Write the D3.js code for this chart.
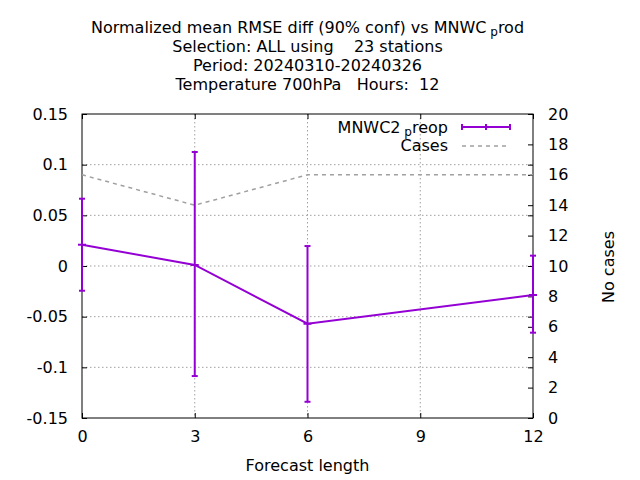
<!DOCTYPE html>
<html><head><meta charset="utf-8">
<script src="https://cdn.jsdelivr.net/npm/d3@7"></script>
<style>body{margin:0;background:#fff}text{font-family:"DejaVu Sans",sans-serif}</style>
</head><body><svg id="c" width="640" height="480"></svg>
<script>
const leadTimes = [0, 3, 6, 12];
const rmseDiff = [0.021, 0.001, -0.057, -0.0286];
const errLow = [-0.0244, -0.1086, -0.134, -0.0658];
const errHigh = [0.0664, 0.1125, 0.0197, 0.0102];
const cases = [16, 14, 16, 16];
const xTicks = [0, 3, 6, 9, 12];
const yTicks = [-0.15, -0.1, -0.05, 0, 0.05, 0.1, 0.15];
const y2Ticks = [0, 2, 4, 6, 8, 10, 12, 14, 16, 18, 20];

const svg = d3.select("#c");
const L = 82, R = 533, T = 114, B = 418;
const x = d3.scaleLinear().domain([0, 12]).range([L, R]);
const y = d3.scaleLinear().domain([-0.15, 0.15]).range([B, T]);
const y2 = d3.scaleLinear().domain([0, 20]).range([B, T]);
const purple = "#9400d3", gray = "#a0a0a0";
const fmt = d => String(+d.toFixed(2));

// grid
const g = svg.append("g");
g.selectAll("line.gx").data(xTicks.filter(d => d > 0 && d < 12)).join("line")
  .attr("x1", d => x(d)).attr("x2", d => x(d)).attr("y1", T).attr("y2", B)
  .attr("stroke", gray).attr("stroke-width", 1).attr("stroke-dasharray", "1.5,2.5");
g.selectAll("line.gy").data(yTicks.filter(d => d > -0.15 && d < 0.15)).join("line")
  .attr("x1", L).attr("x2", R).attr("y1", d => y(d)).attr("y2", d => y(d))
  .attr("stroke", gray).attr("stroke-width", 1).attr("stroke-dasharray", "1.5,2.5");

// axes
function styleAxis(sel) {
  sel.select(".domain").remove();
  sel.selectAll("line").attr("stroke", "#000");
  sel.selectAll("text").attr("font-size", 16).attr("fill", "#000")
    .attr("font-family", "DejaVu Sans, sans-serif");
}
svg.append("g").attr("transform", `translate(${L},0)`)
  .call(d3.axisLeft(y).tickValues(yTicks).tickSize(-5).tickPadding(14).tickFormat(fmt)).call(styleAxis);
svg.append("g").attr("transform", `translate(${R},0)`)
  .call(d3.axisLeft(y).tickValues(yTicks).tickSize(5).tickFormat(() => "")).call(styleAxis);
svg.append("g").attr("transform", `translate(${R},0)`)
  .call(d3.axisRight(y2).tickValues(y2Ticks).tickSize(-5).tickPadding(15).tickFormat(d3.format("d"))).call(styleAxis);
svg.append("g").attr("transform", `translate(0,${B})`)
  .call(d3.axisBottom(x).tickValues(xTicks).tickSize(-5).tickPadding(13).tickFormat(d3.format("d"))).call(styleAxis);
svg.append("g").attr("transform", `translate(0,${T})`)
  .call(d3.axisTop(x).tickValues(xTicks).tickSize(-5).tickFormat(() => "")).call(styleAxis);

// border
svg.append("rect").attr("x", L).attr("y", T).attr("width", R - L).attr("height", B - T)
  .attr("fill", "none").attr("stroke", "#000").attr("stroke-width", 1);

// cases line
svg.append("path").datum(leadTimes.map((t, i) => [t, cases[i]]))
  .attr("d", d3.line().x(d => x(d[0])).y(d => y2(d[1])))
  .attr("fill", "none").attr("stroke", gray).attr("stroke-width", 1.5).attr("stroke-dasharray", "4,4");

// main series
const pts = leadTimes.map((t, i) => ({ t, v: rmseDiff[i], lo: errLow[i], hi: errHigh[i] }));
svg.append("path").datum(pts)
  .attr("d", d3.line().x(d => x(d.t)).y(d => y(d.v)))
  .attr("fill", "none").attr("stroke", purple).attr("stroke-width", 2);
const eb = svg.append("g").attr("stroke", purple).attr("stroke-width", 2).attr("fill", "none");
pts.forEach(d => {
  const cx = x(d.t);
  eb.append("line").attr("x1", cx).attr("x2", cx).attr("y1", y(d.lo)).attr("y2", y(d.hi));
  eb.append("line").attr("x1", cx - 3).attr("x2", cx + 3).attr("y1", y(d.lo)).attr("y2", y(d.lo));
  eb.append("line").attr("x1", cx - 3).attr("x2", cx + 3).attr("y1", y(d.hi)).attr("y2", y(d.hi));
  eb.append("line").attr("x1", cx - 4).attr("x2", cx + 4).attr("y1", y(d.v)).attr("y2", y(d.v));
});

// legend
const lg = svg.append("g");
const t1 = lg.append("text").attr("x", 448).attr("y", 133).attr("text-anchor", "end").attr("font-size", 16);
t1.append("tspan").text("MNWC2");
t1.append("tspan").attr("font-size", 12).attr("dy", 3).text(" p");
t1.append("tspan").attr("dy", -3).text("reop");
lg.append("line").attr("x1", 462).attr("x2", 510).attr("y1", 127).attr("y2", 127).attr("stroke", purple).attr("stroke-width", 2);
[462, 486, 510].forEach(px => lg.append("line").attr("x1", px).attr("x2", px).attr("y1", 124).attr("y2", 130).attr("stroke", purple).attr("stroke-width", 2));
lg.append("text").attr("x", 448).attr("y", 151).attr("text-anchor", "end").attr("font-size", 16).text("Cases");
lg.append("line").attr("x1", 462).attr("x2", 510).attr("y1", 146).attr("y2", 146).attr("stroke", gray).attr("stroke-width", 1.5).attr("stroke-dasharray", "4,4");

// titles
const cx0 = (L + R) / 2;
const tt = svg.append("text").attr("x", cx0).attr("y", 33).attr("text-anchor", "middle").attr("font-size", 16);
tt.append("tspan").text("Normalized mean RMSE diff (90% conf) vs MNWC");
tt.append("tspan").attr("font-size", 12).attr("dy", 3).text(" p");
tt.append("tspan").attr("dy", -3).text("rod");
svg.append("text").attr("x", cx0).attr("y", 52).attr("text-anchor", "middle").attr("font-size", 16)
  .style("white-space", "pre").text("Selection: ALL using    23 stations");
svg.append("text").attr("x", cx0).attr("y", 71).attr("text-anchor", "middle").attr("font-size", 16).text("Period: 20240310-20240326");
svg.append("text").attr("x", cx0).attr("y", 90).attr("text-anchor", "middle").attr("font-size", 16)
  .style("white-space", "pre").text("Temperature 700hPa   Hours:  12");
svg.append("text").attr("x", cx0).attr("y", 471).attr("text-anchor", "middle").attr("font-size", 16).text("Forecast length");
svg.append("text").attr("transform", "translate(614,267) rotate(-90)").attr("text-anchor", "middle").attr("font-size", 16).text("No cases");
</script></body></html>
